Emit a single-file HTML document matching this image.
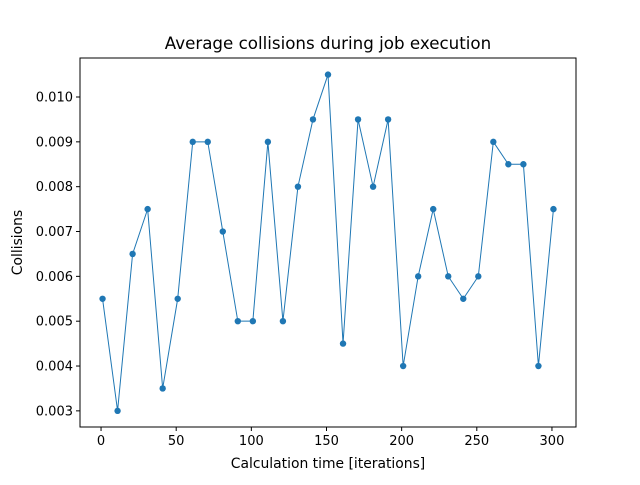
<!DOCTYPE html>
<html><head><meta charset="utf-8"><style>
body{margin:0;background:#fff;}
svg text{font-family:"DejaVu Sans","Liberation Sans",sans-serif;fill:#000;}
</style></head><body>
<svg width="640" height="480" xmlns="http://www.w3.org/2000/svg">
<rect width="640" height="480" fill="#fff"/>
<text x="328" y="49" font-size="16.7" text-anchor="middle">Average collisions during job execution</text>
<g id="plot"></g>
<rect x="80" y="58" width="496" height="369" fill="none" stroke="#000" stroke-width="1"/>
<text x="328" y="468" font-size="13.9" text-anchor="middle">Calculation time [iterations]</text>
<text transform="translate(22,242.5) rotate(-90)" font-size="13.9" text-anchor="middle">Collisions</text>
</svg>
<script>
const xValues=[1,11,21,31,41,51,61,71,81,91,101,111,121,131,141,151,161,171,181,191,201,211,221,231,241,251,261,271,281,291,301];
const yValues=[0.0055,0.003,0.0065,0.0075,0.0035,0.0055,0.009,0.009,0.007,0.005,0.005,0.009,0.005,0.008,0.0095,0.0105,0.0045,0.0095,0.008,0.0095,0.004,0.006,0.0075,0.006,0.0055,0.006,0.009,0.0085,0.0085,0.004,0.0075];
const xTicks=[0,50,100,150,200,250,300];
const yTicks=[0.003,0.004,0.005,0.006,0.007,0.008,0.009,0.010];
const yTickLabels=["0.003","0.004","0.005","0.006","0.007","0.008","0.009","0.010"];
const NS="http://www.w3.org/2000/svg";
const L=80,R=576,T=58,B=427;
const xMin=-14,xMax=316,yMin=0.00264,yMax=0.01087;
const sx=v=>L+(v-xMin)/(xMax-xMin)*(R-L);
const sy=v=>B-(v-yMin)/(yMax-yMin)*(B-T);
const g=document.getElementById('plot');
function mk(t,a){const e=document.createElementNS(NS,t);for(const k in a)e.setAttribute(k,a[k]);g.appendChild(e);return e;}
xTicks.forEach(v=>{
 const l=mk('line',{x1:sx(v),x2:sx(v),y1:B,y2:B+4,stroke:'#000'});
 
 
 const t=mk('text',{x:sx(v),y:B+18,'font-size':13,'text-anchor':'middle'});t.textContent=v;
 
 
});
yTicks.forEach((v,i)=>{
 const l=mk('line',{x1:L-4,x2:L,y1:sy(v),y2:sy(v),stroke:'#000'});
 
 
 const t=mk('text',{x:L-7,y:sy(v)+4.5,'font-size':13,'text-anchor':'end'});t.textContent=yTickLabels[i];
 
 
});
const pts=xValues.map((x,i)=>sx(x)+','+sy(yValues[i])).join(' ');
const pl=mk('polyline',{points:pts,fill:'none',stroke:'#1f77b4','stroke-width':1});


xValues.forEach((x,i)=>{
 const c=mk('circle',{cx:sx(x),cy:sy(yValues[i]),r:3.2,fill:'#1f77b4'});
 
 
});
</script>
</body></html>
